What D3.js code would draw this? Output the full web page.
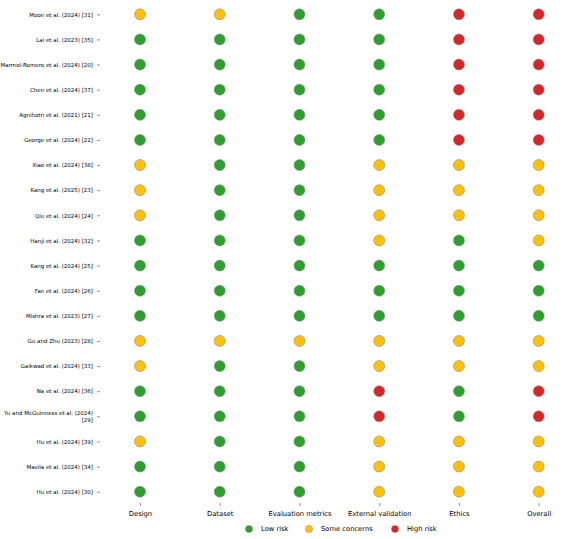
<!DOCTYPE html>
<html>
<head>
<meta charset="utf-8">
<script src="https://cdn.jsdelivr.net/npm/d3@7"></script>
<style>
  body { margin: 0; background: #fff; }
  text { font-family: "DejaVu Sans", sans-serif; fill: #000; }
</style>
</head>
<body>
<div id="chart"></div>
<script>
// studies, top to bottom
const studies = [
    "Moon et al. (2024) [31]",
    "Lai et al. (2023) [35]",
    "Marmol-Romero et al. (2024) [20]",
    "Chen et al. (2024) [37]",
    "Agnihotri et al. (2021) [21]",
    "George et al. (2024) [22]",
    "Xiao et al. (2024) [38]",
    "Kang et al. (2025) [23]",
    "Qiu et al. (2024) [24]",
    "Hanji et al. (2024) [32]",
    "Kang et al. (2024) [25]",
    "Fan et al. (2024) [26]",
    "Mishra et al. (2023) [27]",
    "Gu and Zhu (2023) [28]",
    "Gaikwad et al. (2024) [33]",
    "Na et al. (2024) [36]",
    "Yu and McGuinness et al. (2024) [29]",
    "Hu et al. (2024) [39]",
    "Mavila et al. (2024) [34]",
    "Hu et al. (2024) [30]"
];

const domains = ["Design", "Dataset", "Evaluation metrics", "External validation", "Ethics", "Overall"];

// L = low risk, S = some concerns, H = high risk
const design     = ["S","L","L","L","L","L","S","S","S","L","L","L","L","S","S","L","L","S","L","L"];
const dataset    = ["S","L","L","L","L","L","L","L","L","L","L","L","L","S","L","L","L","L","L","L"];
const evaluation = ["L","L","L","L","L","L","L","L","L","L","L","L","L","S","L","L","L","L","L","L"];
const external   = ["L","L","L","L","L","L","S","S","S","S","L","L","L","S","S","H","H","S","S","S"];
const ethics     = ["H","H","H","H","H","H","S","S","S","L","L","L","L","S","S","L","L","S","S","S"];
const overall    = ["H","H","H","H","H","H","S","S","S","S","L","L","L","S","S","H","H","S","S","S"];

const ratings = [design, dataset, evaluation, external, ethics, overall];

const levels = ["L", "S", "H"];
const levelNames = ["Low risk", "Some concerns", "High risk"];

const width = 576;
const height = 539;

const color = d3.scaleOrdinal()
    .domain(levels)
    .range(["#2ca02c", "#ffc107", "#d62728"]);

const x = d3.scalePoint()
    .domain(domains)
    .range([140, 538.7]);

const y = d3.scalePoint()
    .domain(studies)
    .range([14.3, 491.7]);

const svg = d3.select("#chart")
    .append("svg")
    .attr("width", width)
    .attr("height", height);

// y axis (no spine)
const yAxis = svg.append("g")
    .attr("transform", "translate(100,0)")
    .call(d3.axisLeft(y).tickSize(3).tickPadding(4));
yAxis.select(".domain").remove();
yAxis.selectAll(".tick line").attr("stroke", "#444").attr("stroke-width", 0.6);
yAxis.selectAll(".tick text")
    .style("font-size", "5.5px")
    .style("font-family", "DejaVu Sans, sans-serif")
    .each(function(d) {
        if (d.length > 32) {
            const t = d3.select(this);
            const cut = d.lastIndexOf(" ");
            t.text(null);
            t.append("tspan").attr("x", -7).attr("dy", "-0.3em").text(d.slice(0, cut));
            t.append("tspan").attr("x", -7).attr("dy", "1.3em").text(d.slice(cut + 1));
        }
    });

// x axis (no spine)
const xAxis = svg.append("g")
    .attr("transform", "translate(0,503)")
    .call(d3.axisBottom(x).tickSize(3).tickPadding(5));
xAxis.select(".domain").remove();
xAxis.selectAll(".tick line").attr("stroke", "#444").attr("stroke-width", 0.6);
xAxis.selectAll(".tick text")
    .style("font-size", "6.75px")
    .style("font-family", "DejaVu Sans, sans-serif");

// dots
const cells = [];
ratings.forEach((col, j) => {
    col.forEach((r, i) => {
        cells.push({ study: studies[i], domain: domains[j], risk: r });
    });
});

svg.append("g")
    .selectAll("circle")
    .data(cells)
    .enter()
    .append("circle")
    .attr("cx", d => x(d.domain))
    .attr("cy", d => y(d.study))
    .attr("r", 5.5)
    .attr("fill", d => color(d.risk))
    .attr("stroke", "#8a8a8a")
    .attr("stroke-width", 0.6);

// legend
const legendX = [249, 309, 395];
const legend = svg.append("g")
    .selectAll("g")
    .data(levels)
    .enter()
    .append("g")
    .attr("transform", (d, i) => "translate(" + legendX[i] + ",529)");

legend.append("circle")
    .attr("r", 3.6)
    .attr("fill", d => color(d))
    .attr("stroke", "#8a8a8a")
    .attr("stroke-width", 0.5);

legend.append("text")
    .attr("x", 12)
    .attr("dy", "0.35em")
    .style("font-size", "6.75px")
    .text((d, i) => levelNames[i]);
</script>
</body>
</html>
